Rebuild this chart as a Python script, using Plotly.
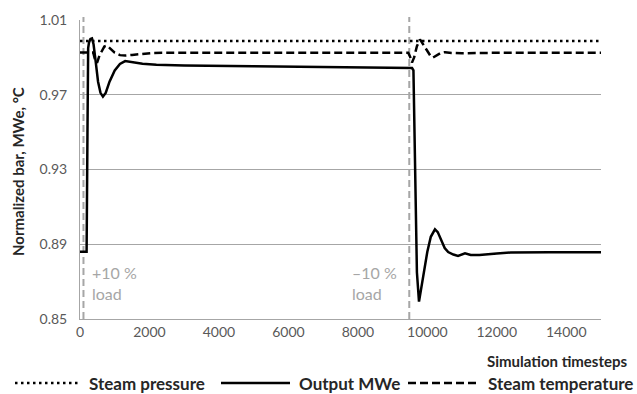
import plotly.graph_objects as go

# Simulation timesteps and normalised responses
output_x = [0, 190, 215, 235, 260, 300, 345, 390, 450, 520, 590, 660, 740, 850, 1000,
            1150, 1300, 1500, 1800, 2200, 3000, 5000, 7000, 9000, 9560, 9600, 9640,
            9700, 9760, 9820, 9900, 10000, 10100, 10220, 10300, 10400, 10500, 10600,
            10750, 10883, 11085, 11250, 11500, 12000, 12400, 13500, 15000]
output_mwe = [0.886, 0.886, 0.950, 0.995, 0.998, 0.9998, 1.0001, 0.997, 0.988, 0.977,
              0.971, 0.969, 0.971, 0.977, 0.983, 0.9865, 0.988, 0.9875, 0.9866, 0.986,
              0.9856, 0.9852, 0.9848, 0.9845, 0.9843, 0.983, 0.930, 0.875, 0.8593,
              0.866, 0.876, 0.886, 0.894, 0.898, 0.8965, 0.8925, 0.888, 0.8858, 0.8845,
              0.8838, 0.8852, 0.8843, 0.8842, 0.8850, 0.8856, 0.8857, 0.8857]

temp_x = [0, 380, 430, 490, 560, 633, 700, 777, 850, 1000, 1150, 1300, 1500, 1800,
          2100, 3000, 9450, 9500, 9558, 9620, 9700, 9789, 9880, 10000, 10100, 10163,
          10280, 10400, 10509, 10700, 11000, 11500, 15000]
steam_temp = [0.9926, 0.9926, 0.989, 0.987, 0.991, 0.994, 0.9958, 0.9963, 0.995, 0.9925,
              0.9912, 0.991, 0.9913, 0.992, 0.9924, 0.9925, 0.9925, 0.9905, 0.9872,
              0.990, 0.996, 0.9996, 0.997, 0.993, 0.9905, 0.9899, 0.991, 0.9925, 0.9928,
              0.9924, 0.9922, 0.9924, 0.9925]

pressure_x = [0, 15000]
steam_pressure = [0.9988, 0.9988]

# Load step events
event_x = [100, 9480]
event_labels = ["+10 %<br>load", "\u201310 %<br>load"]

x_ticks = [0, 2000, 4000, 6000, 8000, 10000, 12000, 14000]
y_ticks = [0.85, 0.89, 0.93, 0.97, 1.01]

FONT = "Lato"
GRID = "#a6a6a6"
TICK = "#595959"
TEXT = "#262626"

fig = go.Figure()
fig.add_trace(go.Scatter(x=pressure_x, y=steam_pressure, mode="lines",
                         line=dict(color="black", width=2.5, dash="2.5px,3.5px"),
                         name="Steam pressure", showlegend=False))
fig.add_trace(go.Scatter(x=temp_x, y=steam_temp, mode="lines",
                         line=dict(color="black", width=2.5, dash="8px,4px"),
                         name="Steam temperature", showlegend=False))
fig.add_trace(go.Scatter(x=output_x, y=output_mwe, mode="lines",
                         line=dict(color="black", width=2.5),
                         name="Output MWe", showlegend=False))

for ex in event_x:
    fig.add_shape(type="line", xref="x", yref="paper", x0=ex, x1=ex, y0=0, y1=1.01,
                  line=dict(color=GRID, width=2, dash="7px,4px"), layer="below")
fig.add_annotation(x=event_x[0], y=0.881, xref="x", yref="y", text=event_labels[0],
                   showarrow=False, xanchor="left", yanchor="top", align="left",
                   xshift=7, font=dict(family=FONT, size=16, color=GRID))
fig.add_annotation(x=event_x[1], y=0.881, xref="x", yref="y", text=event_labels[1],
                   showarrow=False, xanchor="right", yanchor="top", align="left",
                   xshift=-10, font=dict(family=FONT, size=16, color=GRID))

# Legend row drawn beneath the axis
legend_items = [("Steam pressure", "2.5px,3.5px", 15, 80),
                ("Output MWe", "solid", 221, 290),
                ("Steam temperature", "8px,4px", 408, 479)]
W, H = 637, 394
L, R, T, B = 80, 36, 20, 75
pw, ph = W - L - R, H - T - B
def px(xp):
    return (xp - L) / pw
def py(yp):
    return (H - B - yp) / ph
ly = 383
for name, dash, x0, x1 in legend_items:
    fig.add_shape(type="line", xref="paper", yref="paper", x0=px(x0), x1=px(x1),
                  y0=py(ly), y1=py(ly), line=dict(color="black", width=2.5, dash=dash))
    fig.add_annotation(xref="paper", yref="paper", x=px(x1 + 7), y=py(ly), text=name,
                       showarrow=False, xanchor="left", yanchor="middle",
                       font=dict(family=FONT, size=17, color=TEXT, weight="bold"))

fig.add_annotation(xref="paper", yref="paper", x=px(630), y=py(361),
                   text="Simulation timesteps", showarrow=False, xanchor="right",
                   yanchor="middle", font=dict(family=FONT, size=15, color=TEXT, weight="bold"))
fig.add_annotation(xref="paper", yref="paper", x=px(18), y=py(150), yshift=-22,
                   text="Normalized bar, MWe, \u00b0C", showarrow=False, textangle=-90,
                   xanchor="center", yanchor="middle",
                   font=dict(family=FONT, size=15, color=TEXT, weight="bold"))

fig.update_xaxes(range=[0, 15000], tickvals=x_ticks, ticktext=[str(v) for v in x_ticks],
                 showgrid=False, showline=True, linecolor=GRID, linewidth=1,
                 ticks="", zeroline=False,
                 tickfont=dict(family=FONT, size=14, color=TICK))
fig.update_yaxes(range=[0.85, 1.01], tickvals=y_ticks,
                 ticktext=["%.2f" % v for v in y_ticks],
                 showgrid=True, gridcolor=GRID, gridwidth=1, showline=True,
                 linecolor=GRID, linewidth=1, zeroline=False, ticks="",
                 ticklabelstandoff=9,
                 tickfont=dict(family=FONT, size=14, color=TICK))

fig.update_layout(width=W, height=H, margin=dict(l=L, r=R, t=T, b=B),
                  plot_bgcolor="white", paper_bgcolor="white", showlegend=False)

fig.write_html("out.html")
